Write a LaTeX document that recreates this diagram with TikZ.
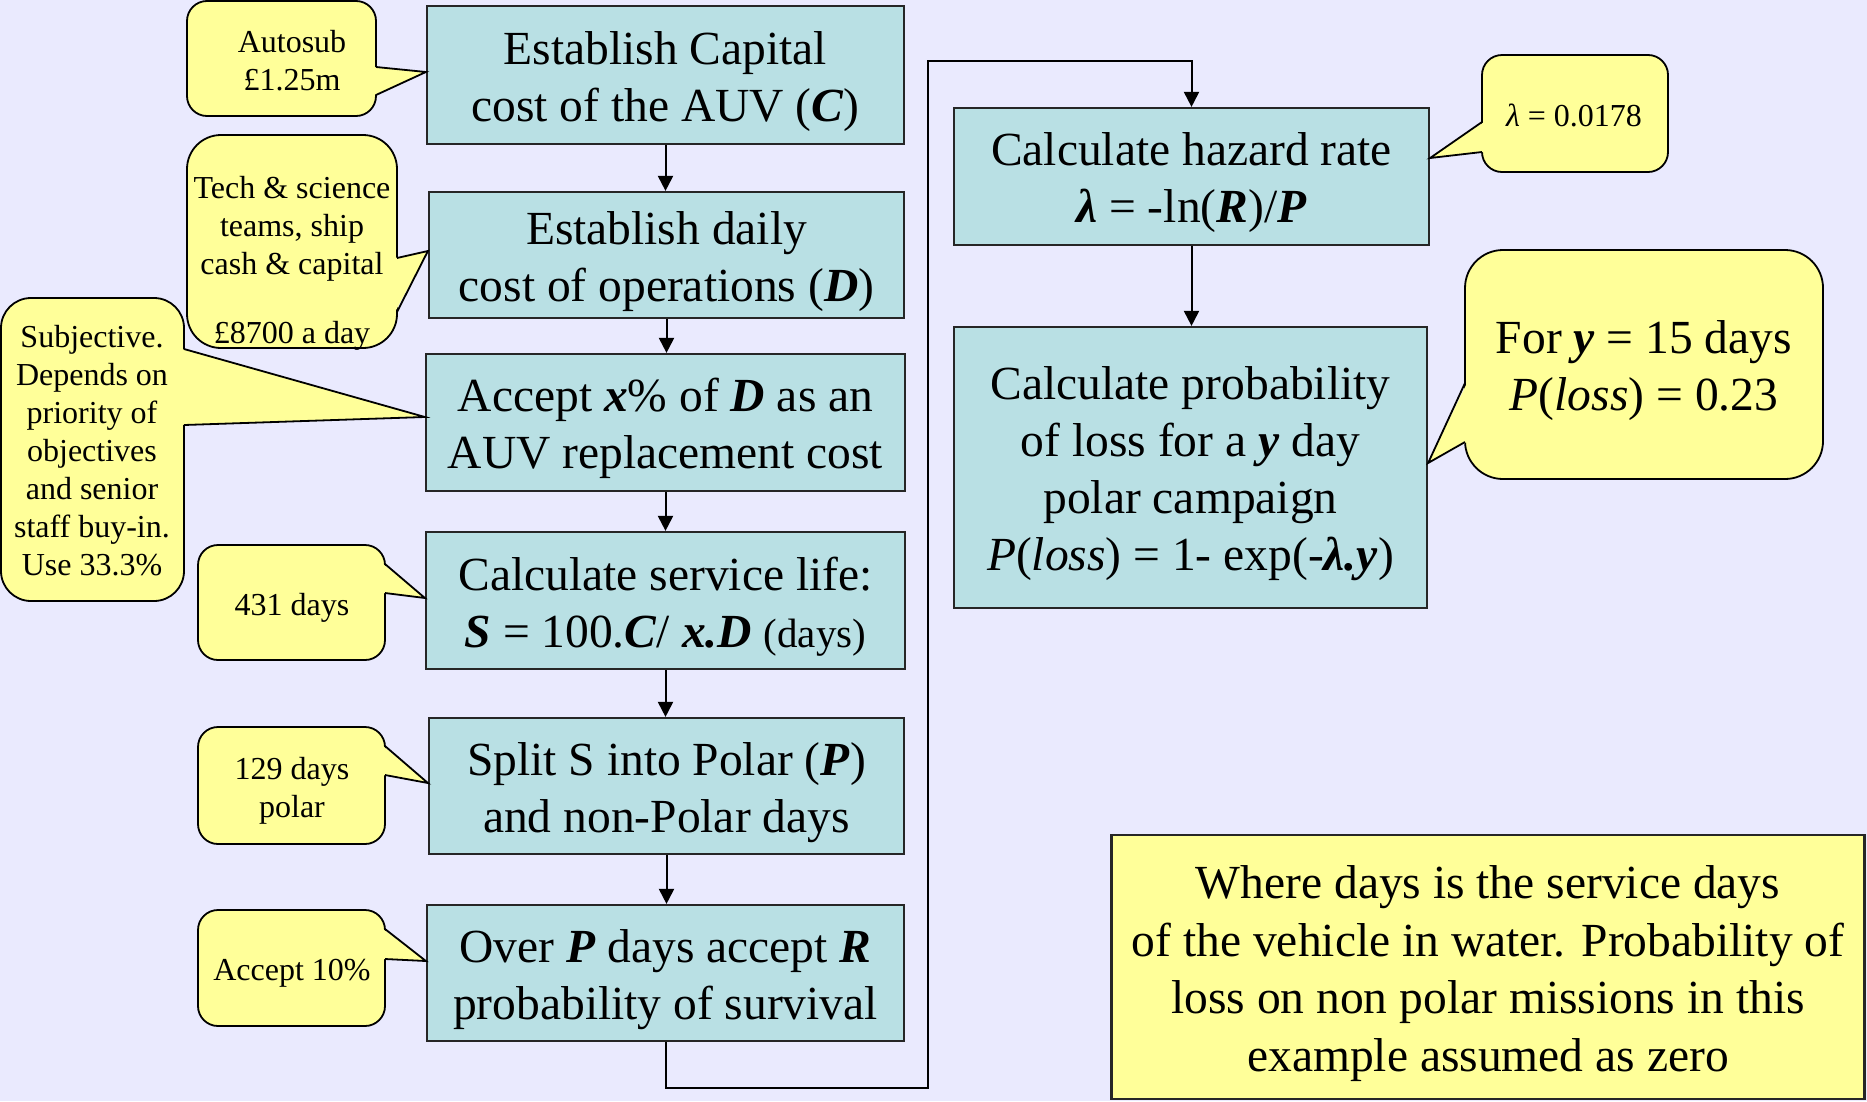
\documentclass[tikz,border=0pt]{standalone}
\usepackage{fontspec}
\setmainfont{Liberation Serif}
\usetikzlibrary{arrows.meta}
\definecolor{bgcol}{RGB}{234,234,254}
\definecolor{boxfill}{RGB}{185,224,228}
\definecolor{notefill}{RGB}{255,255,153}
\newcommand{\bi}[1]{\textbf{\textit{#1}}}
% struts that fix the height of the first line and the depth of the last one
\newcommand{\hs}{\rule{0pt}{46pt}}
\newcommand{\ds}{\rule[-10pt]{0pt}{10pt}}
% speech bubble with its pointer on the right edge:
% #1,#2 top-left corner; #3,#4 bottom-right corner; #5 corner radius;
% #6,#7 y-range of the pointer base; #8 pointer tip
\newcommand{\bubbleR}[8]{%
  \draw[bubble, rounded corners=#5] (#1,#2) rectangle (#3,#4);
  \fill[notefill] (#3-2,#6) -- #8 -- (#3-2,#7) -- cycle;
  \draw[bubbleline] (#3,#6) -- #8 -- (#3,#7);
}
% same, pointer on the left edge
\newcommand{\bubbleL}[8]{%
  \draw[bubble, rounded corners=#5] (#1,#2) rectangle (#3,#4);
  \fill[notefill] (#1+2,#6) -- #8 -- (#1+2,#7) -- cycle;
  \draw[bubbleline] (#1,#6) -- #8 -- (#1,#7);
}
\begin{document}
\begin{tikzpicture}[x=1pt,y=-1pt,
  stepbox/.style={draw=black!85, line width=2.2pt, fill=boxfill, inner sep=0pt,
    align=center, font=\fontsize{47.5}{57}\selectfont},
  notebox/.style={draw=black!85, line width=2.2pt, fill=notefill, inner sep=0pt,
    align=center, font=\fontsize{47.5}{57.5}\selectfont},
  bubble/.style={draw=black, line width=1.8pt, fill=notefill},
  bubbleline/.style={draw=black, line width=1.8pt, line join=miter},
  calltext/.style={align=center, inner sep=0pt, font=\fontsize{32}{38}\selectfont},
  bigcalltext/.style={align=center, inner sep=0pt, font=\fontsize{47.5}{57}\selectfont},
  flow/.style={line width=2pt, draw=black, -{Triangle[length=15pt,width=15pt]}}]

\fill[bgcol] (0,0) rectangle (1867,1101);
\useasboundingbox (0,0) rectangle (1867,1101);

% main sequence of steps
\node[stepbox, minimum width=477pt, minimum height=138pt] (b1) at (665.5,75)
  {\hs Establish Capital\\cost of the AUV (\bi{C})\ds};
\node[stepbox, minimum width=475pt, minimum height=126pt] (b2) at (666.5,255)
  {\hs Establish daily\\cost of operations (\bi{D})\ds};
\node[stepbox, minimum width=479pt, minimum height=137pt] (b3) at (665.5,422.5)
  {\hs Accept \bi{x}\% of \bi{D} as an\\AUV replacement cost\ds};
\node[stepbox, minimum width=479pt, minimum height=137pt] (b4) at (665.5,600.5)
  {\hs Calculate service life:\\\bi{S} = 100.\bi{C}/ \bi{x.D} {\fontsize{41}{49}\selectfont(days)}\ds};
\node[stepbox, minimum width=475pt, minimum height=136pt] (b5) at (666.5,786)
  {\hs Split S into Polar (\bi{P})\\and non-Polar days\ds};
\node[stepbox, minimum width=477pt, minimum height=136pt] (b6) at (665.5,973)
  {\hs Over \bi{P} days accept \bi{R}\\probability of survival\ds};
\node[stepbox, minimum width=475pt, minimum height=137pt] (b7) at (1191.5,176.5)
  {\hs Calculate hazard rate\\\bi{λ} = -ln(\bi{R})/\bi{P}\ds};
\node[stepbox, minimum width=473pt, minimum height=281pt] (b8) at (1190.5,467.5)
  {\hs Calculate probability\\of loss for a \bi{y} day\\polar campaign\\\textit{P}(\textit{loss}) = 1- exp(-\bi{λ.y})\ds};

% note box
\node[notebox, minimum width=753pt, minimum height=264pt] (note) at (1488,967)
  {\hs Where days is the service days\\of the vehicle in water. Probability of\\loss on non polar missions in this\\example assumed as zero\ds};

% flow connectors
\draw[flow] (b1.south) -- (b1.south |- b2.north);
\draw[flow] (b2.south) -- (b2.south |- b3.north);
\draw[flow] (b3.south) -- (b3.south |- b4.north);
\draw[flow] (b4.south) -- (b4.south |- b5.north);
\draw[flow] (b5.south) -- (b5.south |- b6.north);
\coordinate (lo) at (928,1088);
\coordinate (hi) at (928,61);
\draw[flow] (b6.south) |- (lo) -- (hi) -| (b7.north);
\draw[flow] (b7.south) -- (b7.south |- b8.north);

% annotation bubbles
\bubbleR{187}{1}{376}{116}{20pt}{67}{95}{(b1.west |- 0,72)}
\node[calltext] (n1) at (292,61) {Autosub\\£1.25m};

\bubbleR{187}{135}{397}{348}{34pt}{258}{312}{(b2.west |- 0,251)}
\node[calltext] (n2) at (292,263) {Tech \& science\\teams, ship\\cash \& capital\\[31pt]£8700 a day};

\bubbleR{1}{298}{184}{601}{30pt}{349}{425}{(b3.west |- 0,417)}
\node[calltext] (n3) at (92,451) {Subjective.\\Depends on\\priority of\\objectives\\and senior\\staff buy-in.\\Use 33.3\%};

\bubbleR{198}{545}{385}{660}{20pt}{564}{593}{(b4.west |- 0,598)}
\node[calltext] (n4) at (292,608) {431 days};

\bubbleR{198}{727}{385}{844}{20pt}{746}{775}{(b5.west |- 0,783)}
\node[calltext] (n5) at (292,791) {129 days\\polar};

\bubbleR{198}{910}{385}{1026}{20pt}{929}{959}{(b6.west |- 0,961)}
\node[calltext] (n6) at (292,973) {Accept 10\%};

\bubbleL{1482}{55}{1668}{172}{20pt}{122}{152}{(b7.east |- 0,158)}
\node[calltext] (n7) at (1574,115) {\textit{λ} = 0.0178};

\bubbleL{1465}{250}{1823}{479}{38pt}{383}{442}{(b8.east |- 0,463)}
\node[bigcalltext] (n8) at (1644,371) {For \bi{y} = 15 days\\\textit{P}(\textit{loss}) = 0.23};

\end{tikzpicture}
\end{document}
